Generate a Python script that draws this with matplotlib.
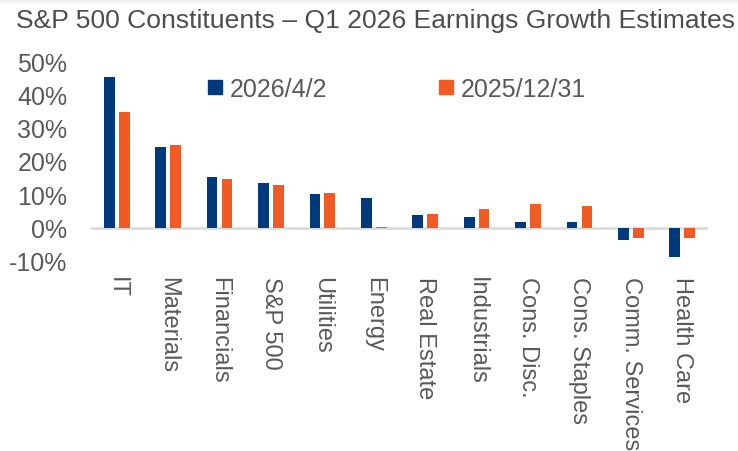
import numpy as np
import matplotlib
matplotlib.use('Agg')
import matplotlib.pyplot as plt
from matplotlib.ticker import FuncFormatter
from matplotlib.patches import Rectangle
from matplotlib.lines import Line2D

plt.rcParams['font.family'] = ['Liberation Sans', 'DejaVu Sans']

# data (% growth)
sectors = ['IT', 'Materials', 'Financials', 'S&P 500', 'Utilities', 'Energy',
           'Real Estate', 'Industrials', 'Cons. Disc.', 'Cons. Staples',
           'Comm. Services', 'Health Care']
est_apr = [45.3, 24.1, 15.2, 13.3, 10.1, 9.0, 3.7, 3.2, 1.8, 1.6, -3.7, -8.7]
est_dec = [34.6, 24.9, 14.6, 12.9, 10.4, 0.2, 4.2, 5.7, 7.0, 6.4, -3.1, -3.2]
labels = ['2026/4/2', '2025/12/31']

blue = '#003a7d'
orange = '#f15a22'
grey = '#595959'

fig = plt.figure(figsize=(7.38, 4.52), dpi=100)
# thin light strip along the top edge, as in the screenshot
fig.patches.append(Rectangle((0, 1-3/452), 1, 3/452, transform=fig.transFigure,
                             color='#f2f2f2', zorder=0))
ax = fig.add_axes([91/738, 1-262/452, 617/738, 200/452])

x = np.arange(len(sectors))
w = 0.21
off = 0.145
ax.bar(x - off, est_apr, width=w, color=blue, zorder=2)
ax.bar(x + off, est_dec, width=w, color=orange, zorder=2)
ax.axhline(0, color='#d9d9d9', lw=1.8, zorder=1)

ax.set_xlim(-0.5, len(sectors) - 0.5)
ax.set_ylim(-10, 50)
ax.set_yticks(np.arange(-10, 51, 10))
ax.yaxis.set_major_formatter(FuncFormatter(lambda v, p: f"{v:.0f}%"))
ax.set_xticks(x)
ax.set_xticklabels(sectors, rotation=270, fontsize=17, color=grey,
                   va='top', ha='center')
ax.tick_params(axis='y', length=0, pad=17, labelsize=18, labelcolor=grey)
ax.tick_params(axis='x', length=0, pad=11)
for s in ax.spines.values():
    s.set_visible(False)

# square legend keys like the Excel original
handles = [Line2D([], [], ls='none', marker='s', ms=10, color=c, label=l)
           for c, l in zip([blue, orange], labels)]
ax.legend(handles=handles, loc='center left', bbox_to_anchor=(0.172, 0.862),
          ncol=2, frameon=False, fontsize=18, labelcolor=grey,
          handlelength=0.6, handletextpad=0.3,
          columnspacing=4.45, borderaxespad=0)

fig.text(16/738, 1-28/452, 'S&P 500 Constituents \u2013 Q1 2026 Earnings Growth Estimates',
         fontsize=19.05, color='#4d4d4d', ha='left', va='baseline')

fig.savefig('out.png', dpi=100)
